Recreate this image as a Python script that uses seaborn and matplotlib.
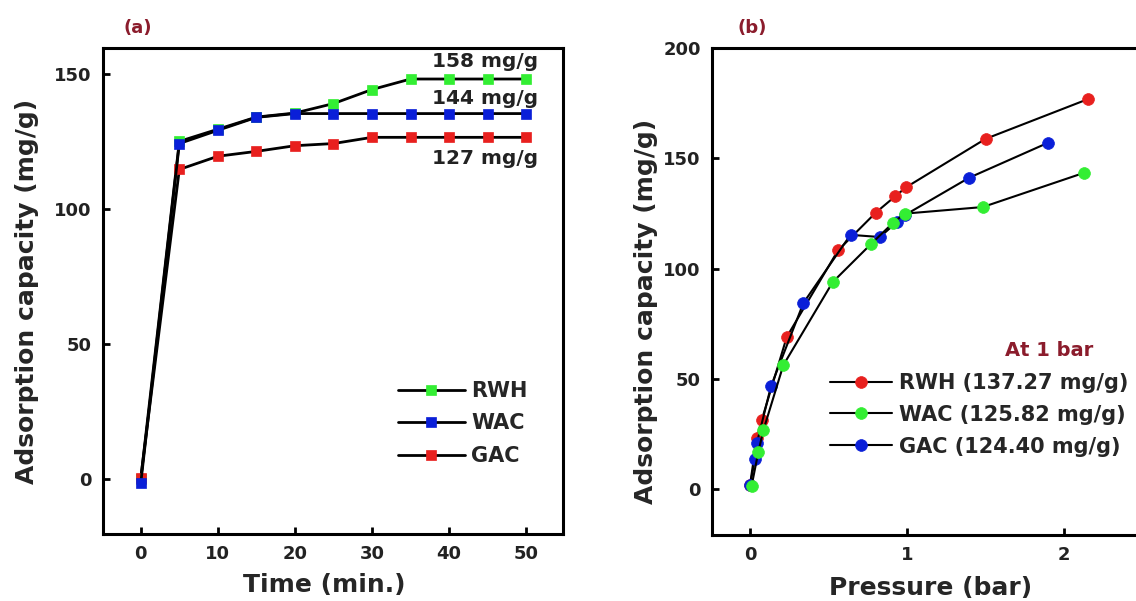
import seaborn as sns
import matplotlib.pyplot as plt
import pandas as pd

# (a) adsorption vs time
time_min = [0, 5, 10, 15, 20, 25, 30, 35, 40, 45, 50]
rwh_time = [0, 125, 129.5, 134, 135.5, 139, 144.2, 148.1, 148.1, 148.1, 148.1]
wac_time = [-1.5, 124.2, 129.1, 133.9, 135.3, 135.3, 135.3, 135.3, 135.3, 135.3, 135.3]
gac_time = [0.5, 114.6, 119.5, 121.3, 123.4, 124.2, 126.5, 126.5, 126.5, 126.5, 126.5]
time_notes = ["158 mg/g", "144 mg/g", "127 mg/g"]
time_note_y = [154.7, 140.9, 118.5]

# (b) adsorption isotherms
rwh_p = [0.0, 0.043, 0.074, 0.234, 0.56, 0.80, 0.925, 0.995, 1.50, 2.155]
rwh_q = [2, 23, 31.2, 69, 108.2, 125.3, 132.8, 136.9, 158.8, 176.9]
wac_p = [0.01, 0.053, 0.085, 0.212, 0.527, 0.773, 0.909, 0.984, 1.483, 2.127]
wac_q = [1.5, 16.9, 26.7, 56.2, 93.9, 111.3, 120.6, 124.9, 127.9, 143.4]
gac_p = [0.0, 0.032, 0.043, 0.134, 0.34, 0.64, 0.827, 0.936, 0.99, 1.396, 1.897]
gac_q = [2, 13.6, 20.7, 46.8, 84.4, 115.3, 114.3, 121.1, 124.4, 141.2, 157.0]
legend_b = ["RWH (137.27 mg/g)", "WAC (125.82 mg/g)", "GAC (124.40 mg/g)"]

RED = "#e8201e"
GREEN = "#33ee33"
BLUE = "#0a1fd8"
DARKRED = "#8b1c2c"

sns.set_style("ticks")
plt.rcParams["font.family"] = ["DejaVu Sans"]
plt.rcParams["font.weight"] = "bold"
plt.rcParams["axes.labelweight"] = "bold"

fig = plt.figure(figsize=(11.36, 6.01), dpi=100)
ax1 = fig.add_axes([0.0907, 0.1115, 0.405, 0.8087])
ax2 = fig.add_axes([0.6268, 0.1098, 0.3785, 0.8103])


def draw(ax, x, y, col, label, marker, ms, lw):
    df = pd.DataFrame({"x": x, "y": y})
    sns.lineplot(data=df, x="x", y="y", ax=ax, color="black", lw=lw,
                 marker=marker, markersize=ms, markerfacecolor=col,
                 markeredgecolor=col, markeredgewidth=0.5,
                 sort=False, estimator=None, label=label)


# panel (a)
draw(ax1, time_min, rwh_time, GREEN, "RWH", "s", 7, 2.0)
draw(ax1, time_min, gac_time, RED, "GAC", "s", 7, 2.0)
draw(ax1, time_min, wac_time, BLUE, "WAC", "s", 7, 2.0)
ax1.set_xlim(-4.9, 54.8)
ax1.set_ylim(-20.4, 159.6)
ax1.set_xticks([0, 10, 20, 30, 40, 50])
ax1.set_yticks([0, 50, 100, 150])
ax1.set_xlabel("Time (min.)", fontsize=18)
ax1.set_ylabel("Adsorption capacity (mg/g)", fontsize=18)
ax1.xaxis.set_label_coords(0.48, -0.08)
ax1.yaxis.set_label_coords(-0.139, 0.5)
for txt, yy in zip(time_notes, time_note_y):
    ax1.text(51.5, yy, txt, ha="right", va="center", fontsize=14.5,
             fontweight="bold", color="#222222")
h, l = ax1.get_legend_handles_labels()
order = [l.index(n) for n in ["RWH", "WAC", "GAC"]]
ax1.legend([h[i] for i in order], [l[i] for i in order], loc="upper left",
           bbox_to_anchor=(0.641, 0.315), frameon=False, fontsize=15,
           handlelength=3.2, handletextpad=0.33, labelspacing=0.6,
           borderpad=0, borderaxespad=0)
ax1.text(0.075, 1.042, "(a)", transform=ax1.transAxes, color=DARKRED,
         fontsize=13, fontweight="bold", ha="center", va="center")

# panel (b)
draw(ax2, rwh_p, rwh_q, RED, legend_b[0], "o", 8.5, 1.5)
draw(ax2, gac_p, gac_q, BLUE, legend_b[2], "o", 8.5, 1.5)
draw(ax2, wac_p, wac_q, GREEN, legend_b[1], "o", 8.5, 1.5)
ax2.set_xlim(-0.242, 2.497)
ax2.set_ylim(-20.8, 199.6)
ax2.set_xticks([0, 1, 2])
ax2.set_yticks([0, 50, 100, 150, 200])
ax2.set_xlabel("Pressure (bar)", fontsize=18)
ax2.set_ylabel("Adsorption capacity (mg/g)", fontsize=18)
ax2.xaxis.set_label_coords(0.509, -0.084)
ax2.yaxis.set_label_coords(-0.126, 0.46)
h, l = ax2.get_legend_handles_labels()
order = [l.index(n) for n in legend_b]
ax2.legend([h[i] for i in order], [l[i] for i in order], loc="upper left",
           bbox_to_anchor=(0.274, 0.333), frameon=False, fontsize=15,
           handlelength=3.0, handletextpad=0.34, labelspacing=0.57,
           borderpad=0, borderaxespad=0)
ax2.text(1.905, 63, "At 1 bar", color=DARKRED, fontsize=14,
         fontweight="bold", ha="center", va="center")
ax2.text(0.093, 1.042, "(b)", transform=ax2.transAxes, color=DARKRED,
         fontsize=13, fontweight="bold", ha="center", va="center")

for ax in (ax1, ax2):
    for s in ax.spines.values():
        s.set_linewidth(2.2)
        s.set_color("black")
    ax.tick_params(direction="in", length=5, width=2, labelsize=13, pad=8,
                   colors="black")
    for t in ax.get_xticklabels() + ax.get_yticklabels():
        t.set_fontweight("bold")
        t.set_color("#222222")

fig.savefig("out.png", dpi=100)
